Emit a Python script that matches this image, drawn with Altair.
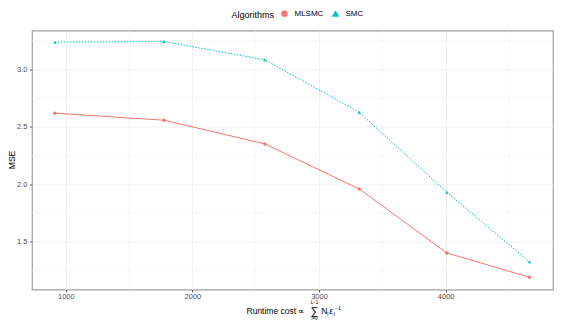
import altair as alt
import pandas as pd

# ---- data ----
runtime = [914, 1776, 2573, 3317, 4009, 4662]
mlsmc = [2.619, 2.558, 2.351, 1.959, 1.401, 1.189]
smc = [3.238, 3.244, 3.084, 2.628, 1.930, 1.323]
algorithms = ["MLSMC", "SMC"]
x_ticks = [1000, 2000, 3000, 4000]
y_ticks = [1.5, 2.0, 2.5, 3.0]
x_minor = [1500, 2500, 3500, 4500]
y_minor = [1.25, 1.75, 2.25, 2.75, 3.25]
colors = ["#F8766D", "#00BFC4"]

FONT = "Liberation Sans"
W, H = 521, 259

df = pd.DataFrame(
    {
        "runtime": runtime * 2,
        "MSE": mlsmc + smc,
        "Algorithms": [algorithms[0]] * len(runtime) + [algorithms[1]] * len(runtime),
    }
)

xs = alt.Scale(domain=[733, 4848], nice=False, zero=False)
ys = alt.Scale(domain=[1.082, 3.340], nice=False, zero=False)
cs = alt.Scale(domain=algorithms, range=colors)

leg = alt.Legend(
    title="Algorithms",
    orient="none",
    direction="horizontal",
    legendX=199.5,
    legendY=-21,
    titleOrient="left",
    titleFontSize=9,
    titleFontWeight="normal",
    titleFont=FONT,
    titleColor="black",
    titlePadding=6,
    labelFontSize=8,
    labelFont=FONT,
    labelColor="black",
    labelOffset=6,
    columnPadding=6,
    symbolSize=24,
)

x_enc = alt.X("runtime:Q", scale=xs, axis=alt.Axis(values=x_ticks, title=None, format="d"))
y_enc = alt.Y("MSE:Q", scale=ys, axis=alt.Axis(values=y_ticks, format=".1f", title=None))
c_enc = alt.Color("Algorithms:N", scale=cs, legend=leg)

minor_x = (
    alt.Chart(pd.DataFrame({"v": x_minor}))
    .mark_rule(color="#F4F4F4", strokeWidth=0.6)
    .encode(x=alt.X("v:Q", scale=xs))
)
minor_y = (
    alt.Chart(pd.DataFrame({"v": y_minor}))
    .mark_rule(color="#F4F4F4", strokeWidth=0.6)
    .encode(y=alt.Y("v:Q", scale=ys))
)

line_ml = (
    alt.Chart(df)
    .transform_filter(alt.datum.Algorithms == algorithms[0])
    .mark_line(strokeWidth=1)
    .encode(x=x_enc, y=y_enc, color=c_enc)
)
line_smc = (
    alt.Chart(df)
    .transform_filter(alt.datum.Algorithms == algorithms[1])
    .mark_line(strokeWidth=1, strokeDash=[1.5, 1.5])
    .encode(x=x_enc, y=y_enc, color=c_enc)
)

points = (
    alt.Chart(df)
    .mark_point(filled=True, size=12, opacity=1)
    .encode(
        x=x_enc,
        y=y_enc,
        color=c_enc,
        shape=alt.Shape(
            "Algorithms:N",
            scale=alt.Scale(domain=algorithms, range=["circle", "triangle-up"]),
            legend=leg,
        ),
    )
)


def txt(s, x, y, size, align="left", angle=0):
    return (
        alt.Chart(alt.Data(values=[{}]))
        .mark_text(text=s, fontSize=size, align=align, baseline="middle", font=FONT,
                   color="black", angle=angle)
        .encode(x=alt.value(x), y=alt.value(y))
    )


y_title = txt("MSE", -20, H / 2, 8.5, "center", angle=270)

title_parts = [
    txt("Runtime cost \u221d", 272.5, 280, 8.5, "right"),
    txt("\u2211", 282.5, 281, 11, "center"),
    txt("L\u22121", 282.5, 272, 4.5, "center"),
    txt("l=0", 282.5, 288, 4.5, "center"),
    txt("N", 289.2, 280, 8.5),
    txt("l", 295.3, 283, 5),
    txt("\u03b5", 297.3, 280, 8.5),
    txt("l", 301.8, 283, 5),
    txt("\u22121", 303.3, 277, 5),
]

chart = (
    alt.layer(minor_x, minor_y, line_ml, line_smc, points, y_title, *title_parts)
    .properties(
        width=W,
        height=H,
        padding={"left": 0, "right": 0, "top": 1.5, "bottom": 0},
        autosize=alt.AutoSizeParams(type="pad"),
    )
    .configure_view(stroke="#A0A0A0", strokeWidth=1.2)
    .configure_axis(
        domain=False,
        grid=True,
        gridColor="#EBEBEB",
        gridWidth=0.8,
        tickColor="#333333",
        tickSize=2.5,
        tickWidth=0.8,
        labelFont=FONT,
        labelFontSize=7.5,
        labelColor="#4D4D4D",
    )
    .configure_axisY(labelPadding=2.5)
    .configure_axisX(labelPadding=0)
)

chart.save("out.html", embed_options={"renderer": "svg", "actions": False})
